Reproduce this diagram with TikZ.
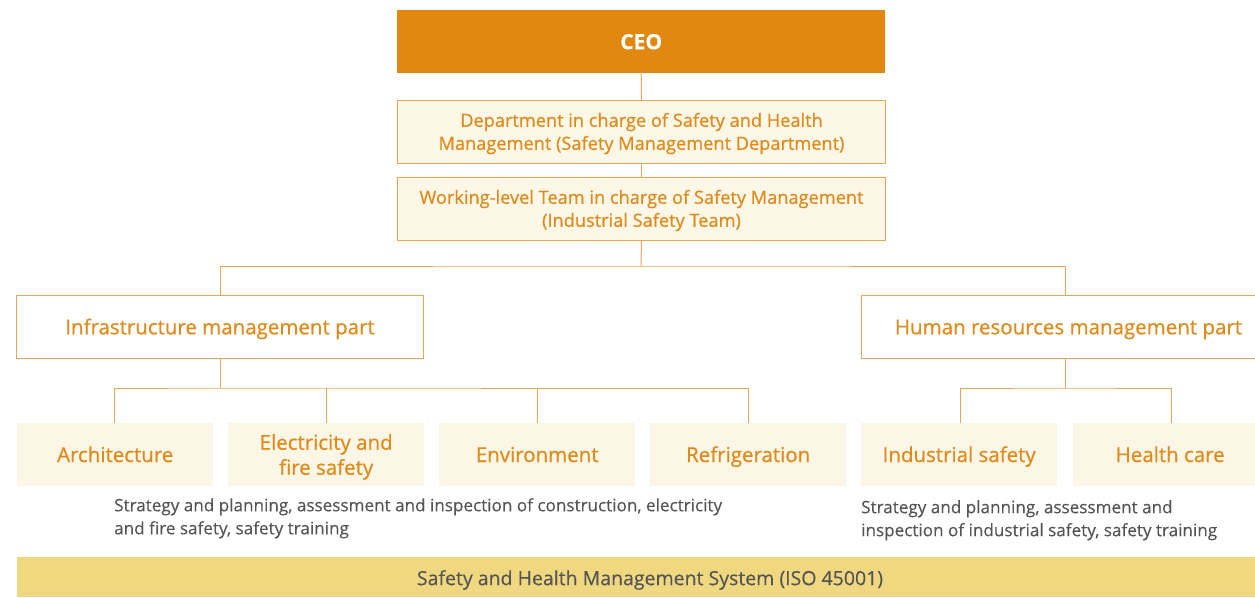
\documentclass[tikz,border=0pt]{standalone}
\usepackage{fontspec}
\setmainfont{Open Sans}[FakeBold=0.6]
\newfontfamily\regfont{Open Sans}[FakeBold=0.3]
\definecolor{ceoor}{HTML}{E0880F}
\definecolor{txtor}{HTML}{E08A1C}
\definecolor{lineor}{HTML}{E9A553}
\definecolor{cream}{HTML}{FCF7E7}
\definecolor{leaffill}{HTML}{FBF6E6}
\definecolor{barfill}{HTML}{F0D880}
\definecolor{graytxt}{HTML}{555555}
\begin{document}
\begin{tikzpicture}[x=1pt,y=-1pt,
  box/.style={draw=lineor,line width=1pt,inner sep=0pt,anchor=north west,text=txtor,align=center,font=\fontsize{18.2}{23}\selectfont},
  leaf/.style={fill=leaffill,inner sep=0pt,anchor=north west,text=txtor,align=center,minimum width=196pt,minimum height=63pt,font=\fontsize{20.5}{25}\selectfont},
  oneline/.style={text height=14.6pt,text depth=0pt},
  conn/.style={draw=lineor,line width=1pt},
  desc/.style={anchor=north west,inner sep=0pt,text=graytxt,align=left,font=\regfont\fontsize{17.1}{23}\selectfont}]
\useasboundingbox (0,0) rectangle (1255,597);
\node[fill=ceoor,inner sep=0pt,anchor=north west,minimum width=488pt,minimum height=63pt,text=white,font=\fontsize{21}{22}\selectfont\bfseries] (ceo) at (397,10) {CEO};
\node[box,fill=cream,minimum width=488pt,minimum height=63pt] (dept) at (397,100) {\rule{0pt}{17pt}Department in charge of Safety and Health\\Management (Safety Management Department)};
\node[box,fill=cream,minimum width=488pt,minimum height=63pt] (team) at (397,177) {\rule{0pt}{17pt}Working-level Team in charge of Safety Management\\(Industrial Safety Team)};
\node[box,oneline,fill=white,minimum width=407pt,minimum height=63pt,font=\fontsize{20.5}{24}\selectfont] (infra) at (16,295) {Infrastructure management part};
\node[box,oneline,fill=white,minimum width=414pt,minimum height=63pt,font=\fontsize{20.5}{24}\selectfont] (hr) at (861,295) {Human resources management part};
\node[leaf,oneline] (arch) at (17,423) {Architecture};
\node[leaf] (elec) at (228,423) {\rule{0pt}{20pt}Electricity and\\fire safety};
\node[leaf,oneline] (env) at (439,423) {Environment};
\node[leaf,oneline] (refr) at (650,423) {Refrigeration};
\node[leaf,oneline] (ind) at (861,423) {Industrial safety};
\node[leaf,oneline,minimum width=194pt] (health) at (1073,423) {Health care};
\node[desc] (d1) at (114,498) {Strategy and planning, assessment and inspection of construction, electricity\\and fire safety, safety training};
\node[desc] (d2) at (861,500) {Strategy and planning, assessment and\\inspection of industrial safety, safety training};
\fill[barfill] (17,557) rectangle (1255,597);
\node[inner sep=0pt,text=graytxt,font=\regfont\fontsize{19.5}{20}\selectfont] (sys) at (650,580) {Safety and Health Management System (ISO 45001)};
\coordinate (h1) at (641,266);
\coordinate (m1) at (220,388);
\coordinate (m2) at (1065,388);
\draw[conn] (ceo.south) -- (dept.north);
\draw[conn] (dept.south) -- (team.north);
\draw[conn] (team.south) -- (h1);
\draw[conn] (infra.north) |- (h1) -| (1065,295);
\draw[conn] (220,358) -- (m1);
\draw[conn] (114,423) |- (m1) -| (748,423);
\draw[conn] (326,388) -- (326,423);
\draw[conn] (537,388) -- (537,423);
\draw[conn] (1065,358) -- (m2);
\draw[conn] (960,423) |- (m2) -| (1171,423);
\end{tikzpicture}
\end{document}
